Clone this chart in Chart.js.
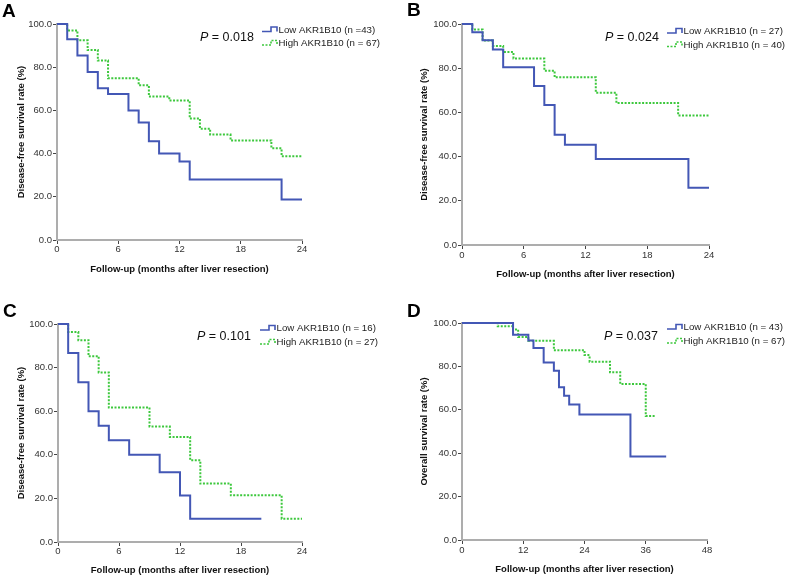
<!DOCTYPE html>
<html>
<head>
<meta charset="utf-8">
<script src="https://cdn.jsdelivr.net/npm/chart.js@4.4.1/dist/chart.umd.min.js"></script>
<style>
  body { margin: 0; background: #fff; }
  #wrap { position: relative; width: 787px; height: 578px; overflow: hidden; }
  #wrap canvas { position: absolute; }
</style>
</head>
<body>
<div id="wrap">
  <canvas id="chartA" width="393" height="289" style="left:0;top:0"></canvas>
  <canvas id="chartB" width="394" height="289" style="left:393px;top:0"></canvas>
  <canvas id="chartC" width="393" height="289" style="left:0;top:289px"></canvas>
  <canvas id="chartD" width="394" height="289" style="left:393px;top:289px"></canvas>
</div>
<script>
//========================= Kaplan-Meier data ===========================
// A: disease-free survival, all patients
var aLowMonths  = [0, 1, 2, 3, 4, 5, 7, 8, 9, 10, 12, 13, 22, 24];
var aLowRate    = [100, 92.9, 85.4, 77.8, 70.2, 67.6, 59.9, 54.4, 45.7, 40.1, 36.3, 28.0, 18.7, 18.7];
var aHighMonths = [0, 1, 2, 3, 4, 5, 8, 9, 11, 13, 14, 15, 17, 21, 22, 24];
var aHighRate   = [100, 97.0, 92.5, 88.0, 83.1, 74.9, 71.6, 66.4, 64.6, 56.2, 51.5, 48.8, 46.1, 42.5, 38.8, 38.8];

// B
var bLowMonths  = [0, 1, 2, 3, 4, 7, 8, 9, 10, 13, 22, 24];
var bLowRate    = [100, 96.3, 92.6, 88.5, 80.4, 71.9, 63.3, 49.9, 45.4, 38.9, 25.9, 25.9];
var bHighMonths = [0, 1, 2, 3, 4, 5, 8, 9, 13, 15, 21, 24];
var bHighRate   = [100, 97.5, 92.5, 90.0, 87.3, 84.4, 78.9, 75.9, 68.9, 64.3, 58.6, 58.6];

// C
var cLowMonths  = [0, 1, 2, 3, 4, 5, 7, 10, 12, 13, 20];
var cLowRate    = [100, 86.7, 73.3, 60.0, 53.3, 46.7, 40.0, 32.0, 21.3, 10.7, 10.7];
var cHighMonths = [0, 1, 2, 3, 4, 5, 9, 11, 13, 14, 17, 22, 24];
var cHighRate   = [100, 96.3, 92.6, 85.2, 77.8, 61.7, 53.0, 48.2, 37.5, 26.8, 21.4, 10.7, 10.7];

// D: overall survival
var dLowMonths  = [0, 10, 13, 14, 16, 18, 19, 20, 21, 23, 33, 40];
var dLowRate    = [100, 94.6, 91.9, 88.5, 81.8, 78.0, 70.4, 66.5, 62.4, 57.8, 38.5, 38.5];
var dHighMonths = [0, 7, 10, 11, 13, 18, 24, 25, 29, 31, 36, 38];
var dHighRate   = [100, 98.5, 97.0, 93.6, 91.8, 87.5, 85.2, 82.2, 77.3, 71.9, 57.2, 57.2];

// tick labels
var yTicks     = [0, 20, 40, 60, 80, 100];
var xTicksDFS  = [0, 6, 12, 18, 24];
var xTicksOS   = [0, 12, 24, 36, 48];

var FONT = '"Liberation Sans", Arial, Helvetica, sans-serif';
var BLUE = '#4357b5';
var GREEN = '#3dc83d';

//========================= notes plugin (letter, P, legend) ===========================
var kmNotes = {
    id: 'kmNotes',
    afterDraw: function (chart, args, opts) {
        var ctx = chart.ctx;
        ctx.save();
        ctx.fillStyle = '#000';
        ctx.textBaseline = 'alphabetic';
        ctx.textAlign = 'left';
        ctx.font = 'bold 19px ' + FONT;
        ctx.fillText(opts.letter, opts.letterX, opts.letterY);

        ctx.textBaseline = 'middle';
        ctx.font = 'italic 12.5px ' + FONT;
        ctx.fillStyle = '#111';
        ctx.fillText('P', opts.pX, opts.pY);
        var w = ctx.measureText('P').width;
        ctx.font = '12.5px ' + FONT;
        ctx.fillText(' = ' + opts.pValue, opts.pX + w, opts.pY);

        chart.data.datasets.forEach(function (ds, i) {
            var x0 = opts.legendX;
            var y = opts.legendY[i];
            ctx.strokeStyle = ds.borderColor;
            ctx.lineWidth = 1.6;
            ctx.setLineDash(ds.borderDash || []);
            ctx.beginPath();
            ctx.moveTo(x0, y + 2);
            ctx.lineTo(x0 + 9, y + 2);
            ctx.lineTo(x0 + 9, y - 2.5);
            ctx.lineTo(x0 + 15, y - 2.5);
            ctx.lineTo(x0 + 15, y + 2);
            ctx.stroke();
            ctx.setLineDash([]);
            ctx.fillStyle = '#222';
            ctx.font = '9.7px ' + FONT;
            ctx.fillText(ds.label, x0 + 16.5, y + 0.5);
        });
        ctx.restore();
    }
};

function toPoints(months, rate) {
    return months.map(function (m, i) { return { x: m, y: rate[i] }; });
}

function kmChart(id, p) {
    var chrt = document.getElementById(id).getContext('2d');
    return new Chart(chrt, {
        type: 'line',
        data: {
            datasets: [{
                label: p.lowLabel,
                data: toPoints(p.lowMonths, p.lowRate),
                borderColor: BLUE,
                borderWidth: 2,
                pointRadius: 0,
                stepped: true,
                fill: false,
                clip: false,
            }, {
                label: p.highLabel,
                data: toPoints(p.highMonths, p.highRate),
                borderColor: GREEN,
                borderWidth: 2,
                borderDash: [2, 1.5],
                pointRadius: 0,
                stepped: true,
                fill: false,
                clip: false,
            }],
        },
        options: {
            responsive: false,
            animation: false,
            devicePixelRatio: 1,
            layout: {
                padding: { left: 0, top: p.top, right: p.canvasW - p.right, bottom: 0 },
            },
            plugins: {
                legend: { display: false },
                tooltip: { enabled: false },
                kmNotes: p.notes,
            },
            scales: {
                x: {
                    type: 'linear',
                    min: 0,
                    max: p.xTicks[p.xTicks.length - 1],
                    afterBuildTicks: function (s) { s.ticks = p.xTicks.map(function (v) { return { value: v }; }); },
                    afterFit: function (s) { s.height = p.canvasH - p.bottom; },
                    border: { display: true, color: '#adadad', width: 2 },
                    grid: { drawOnChartArea: false, drawTicks: true, tickLength: 4, color: '#444', lineWidth: 1 },
                    ticks: {
                        padding: p.xTickPad,
                        color: '#333',
                        maxRotation: 0,
                        font: { family: FONT, size: 9.5 },
                        callback: function (v) { return v; },
                    },
                    title: {
                        display: true,
                        text: 'Follow-up (months after liver resection)',
                        color: '#111',
                        font: { family: FONT, size: 9.5, weight: 'bold' },
                        padding: { top: 0, bottom: p.xTitlePad },
                    },
                },
                y: {
                    min: 0,
                    max: 100,
                    afterBuildTicks: function (s) { s.ticks = yTicks.map(function (v) { return { value: v }; }); },
                    afterFit: function (s) { s.width = p.left; },
                    border: { display: true, color: '#adadad', width: 2 },
                    grid: { drawOnChartArea: false, drawTicks: true, tickLength: 4, color: '#444', lineWidth: 1 },
                    ticks: {
                        padding: 1,
                        color: '#333',
                        font: { family: FONT, size: 9.5 },
                        callback: function (v) { return Number(v).toFixed(1); },
                    },
                    title: {
                        display: true,
                        text: p.yTitle,
                        color: '#111',
                        font: { family: FONT, size: 9.5, weight: 'bold' },
                        padding: { top: p.yTitlePad, bottom: 0 },
                    },
                },
            },
        },
        plugins: [kmNotes],
    });
}

kmChart('chartA', {
    canvasW: 393, canvasH: 289, left: 57, right: 302, top: 24, bottom: 240,
    xTicks: xTicksDFS, xTickPad: 0, xTitlePad: 14, yTitlePad: 16,
    yTitle: 'Disease-free survival rate (%)',
    lowLabel: 'Low AKR1B10 (n =43)', highLabel: 'High AKR1B10 (n = 67)',
    lowMonths: aLowMonths, lowRate: aLowRate, highMonths: aHighMonths, highRate: aHighRate,
    notes: { letter: 'A', letterX: 2, letterY: 17, pValue: '0.018', pX: 200, pY: 38, legendX: 262, legendY: [29.5, 43] },
});

kmChart('chartB', {
    canvasW: 394, canvasH: 289, left: 69, right: 316, top: 24, bottom: 245,
    xTicks: xTicksDFS, xTickPad: 1, xTitlePad: 9, yTitlePad: 26,
    yTitle: 'Disease-free survival rate (%)',
    lowLabel: 'Low AKR1B10 (n = 27)', highLabel: 'High AKR1B10 (n = 40)',
    lowMonths: bLowMonths, lowRate: bLowRate, highMonths: bHighMonths, highRate: bHighRate,
    notes: { letter: 'B', letterX: 14, letterY: 16, pValue: '0.024', pX: 212, pY: 38, legendX: 274, legendY: [31, 44.5] },
});

kmChart('chartC', {
    canvasW: 393, canvasH: 289, left: 58, right: 302, top: 35, bottom: 253,
    xTicks: xTicksDFS, xTickPad: 0, xTitlePad: 2, yTitlePad: 16,
    yTitle: 'Disease-free survival rate (%)',
    lowLabel: 'Low AKR1B10 (n = 16)', highLabel: 'High AKR1B10 (n = 27)',
    lowMonths: cLowMonths, lowRate: cLowRate, highMonths: cHighMonths, highRate: cHighRate,
    notes: { letter: 'C', letterX: 3, letterY: 28, pValue: '0.101', pX: 197, pY: 48, legendX: 260, legendY: [39, 53] },
});

kmChart('chartD', {
    canvasW: 394, canvasH: 289, left: 69, right: 314, top: 34, bottom: 251,
    xTicks: xTicksOS, xTickPad: 1, xTitlePad: 3, yTitlePad: 26,
    yTitle: 'Overall survival rate (%)',
    lowLabel: 'Low AKR1B10 (n = 43)', highLabel: 'High AKR1B10 (n = 67)',
    lowMonths: dLowMonths, lowRate: dLowRate, highMonths: dHighMonths, highRate: dHighRate,
    notes: { letter: 'D', letterX: 14, letterY: 28, pValue: '0.037', pX: 211, pY: 48, legendX: 274, legendY: [38, 52] },
});
//========================= Kaplan-Meier script End ===========================
</script>
</body>
</html>
